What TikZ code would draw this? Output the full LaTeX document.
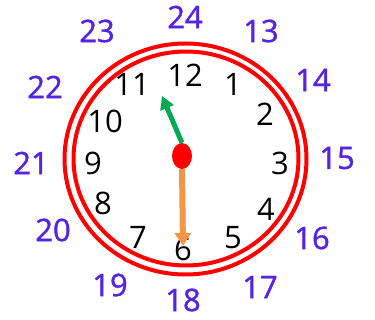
\documentclass[tikz,border=0pt]{standalone}
\usepackage{fontspec}
\setmainfont{Open Sans}
\newfontfamily\outfont[FakeBold=1.2]{Open Sans}
\usepackage{xcolor}
\usetikzlibrary{arrows.meta,shapes.geometric}
\definecolor{RimRed}{RGB}{255,0,0}
\definecolor{HrGreen}{RGB}{0,170,80}
\definecolor{MinOrange}{RGB}{245,150,70}
\definecolor{DayBlue}{RGB}{85,35,225}
\tikzset{
  hr/.style={font=\fontsize{31}{31}\selectfont,text=black,inner sep=0pt},
  day/.style={font=\outfont\fontsize{31}{31}\selectfont,text=DayBlue,inner sep=0pt},
  rim/.style={draw=RimRed,line width=4pt},
}
\begin{document}
\begin{tikzpicture}[x=1pt,y=-1pt]
\useasboundingbox (0,0) rectangle (375,320);
% rims
\draw[rim](185.5,159) ellipse[x radius=121, y radius=115.5];
\draw[rim](186,158.5) ellipse[x radius=112.5, y radius=107];

% face numbers
\foreach \n/\x/\y in {12/185/75,1/233/84,2/265/114,3/280/163,4/266/209,5/233/238,
  6/183/249,7/138/237,8/103/203,9/93/163,10/105/121,11/132/84}{
  \node[hr](h\n)at(\x,\y){\n};
}
% 24h numbers
\foreach \n/\x/\y in {24/185/17,13/261/31,14/313/80,15/337/158,16/312/238,17/260/287,
  18/183/300,19/110/285,20/53/230,21/31/163,22/45/87,23/97/31}{
  \node[day](d\n)at(\x,\y){\n};
}

% hands
\node[fill=RimRed,ellipse,minimum width=20pt,minimum height=26pt,inner sep=0pt](hub)at(182,156){};
\coordinate(hourtip)at(162,96);
\coordinate(mintip)at(183,246);
\draw[HrGreen,line width=5pt,-{Triangle[width=14pt,length=13pt]}](hub.north)--(hourtip);
\draw[MinOrange,line width=6pt,-{Triangle[width=16pt,length=13pt]}](hub.south)--(mintip);
\end{tikzpicture}
\end{document}
